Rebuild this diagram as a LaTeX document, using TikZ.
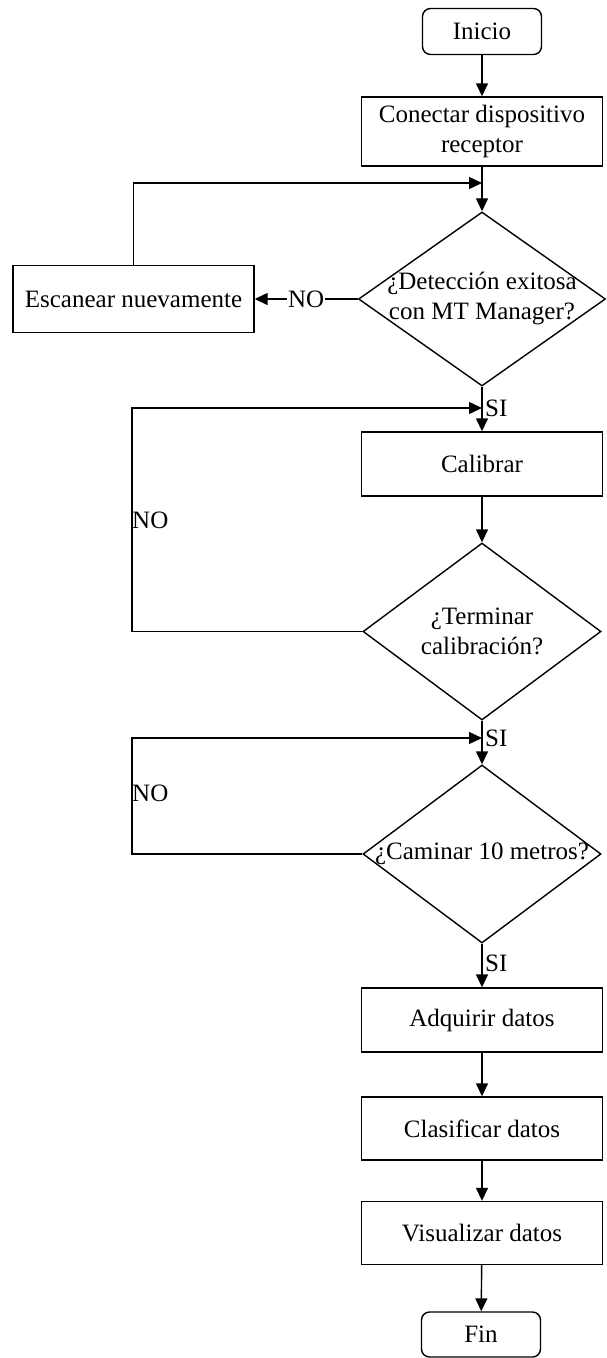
\documentclass[tikz,border=0pt]{standalone}
\usepackage{fontspec}
\setmainfont{Liberation Serif}
\usetikzlibrary{shapes.geometric,arrows.meta}
\begin{document}
\begin{tikzpicture}[x=1pt,y=-1pt,
  every node/.style={font=\fontsize{25}{30}\selectfont},
  box/.style={draw, line width=1.4pt, minimum width=241pt, inner sep=0pt, align=center},
  term/.style={draw, line width=1.4pt, rounded corners=8pt, minimum width=119pt, minimum height=46pt, inner sep=0pt},
  dec/.style={draw, diamond, line width=1.4pt, inner sep=0pt},
  arr/.style={line width=1.4pt, -{Triangle[length=13pt,width=12pt]}},
  lbl/.style={inner sep=0pt, anchor=west}]
\useasboundingbox (0,0) rectangle (607,1358);
% nodes
\node[term] (inicio) at (482,31.5) {Inicio};
\node[box, minimum height=69pt] (conectar) at (482,131.5) {Conectar dispositivo\\receptor};
\node[dec, minimum width=247pt, minimum height=174pt] (d1) at (482,299) {};
\node[align=center, inner sep=0pt] (d1t) at (d1.center) {¿Detección exitosa\\con MT Manager?};
\node[box, minimum height=67pt] (esc) at (133.5,299) {Escanear nuevamente};
\coordinate (j1) at (482,183);
\node[box, minimum height=64pt] (cal) at (482,464) {Calibrar};
\node[dec, minimum width=238pt, minimum height=177pt] (d2) at (482,631.5) {};
\node[align=center, inner sep=0pt] (d2t) at (d2.center) {¿Terminar\\calibración?};
\coordinate (j2) at (482,408);
\coordinate (k2) at (132,631.5);
\node[dec, minimum width=238pt, minimum height=178pt] (d3) at (482,854) {};
\node[inner sep=0pt] (d3t) at (d3.center) {¿Caminar 10 metros?};
\coordinate (j3) at (482,738);
\coordinate (k3) at (132,854);
\node[box, minimum height=64pt] (adq) at (482,1020) {Adquirir datos};
\node[box, minimum height=63pt] (cla) at (482,1128.5) {Clasificar datos};
\node[box, minimum height=63pt] (vis) at (482,1233) {Visualizar datos};
\node[term, minimum height=45pt] (fin) at (481,1334.5) {Fin};
% labels
\node[lbl] (si1) at (485,408) {SI};
\node[lbl] (si2) at (485,738) {SI};
\node[lbl] (si3) at (485,963) {SI};
\node[lbl] (no2) at (132,520) {NO};
\node[lbl] (no3) at (132,793) {NO};
% connectors
\draw[arr] (inicio) -- (conectar);
\draw[arr] (conectar) -- (d1);
\draw[arr] (esc.north) |- (j1);
\draw[arr] (d1.west) -- node[fill=white, inner sep=1pt] (no1) {NO} (esc.east);
\draw[arr] (d1.south) -- (cal.north);
\draw[arr] (d2.west) -- (k2) |- (j2);
\draw[arr] (cal) -- (d2);
\draw[arr] (d2.south) -- (d3.north);
\draw[arr] (d3.west) -- (k3) |- (j3);
\draw[arr] (d3.south) -- (adq.north);
\draw[arr] (adq) -- (cla);
\draw[arr] (cla) -- (vis);
\draw[arr] (vis) -- (fin);
\end{tikzpicture}
\end{document}
